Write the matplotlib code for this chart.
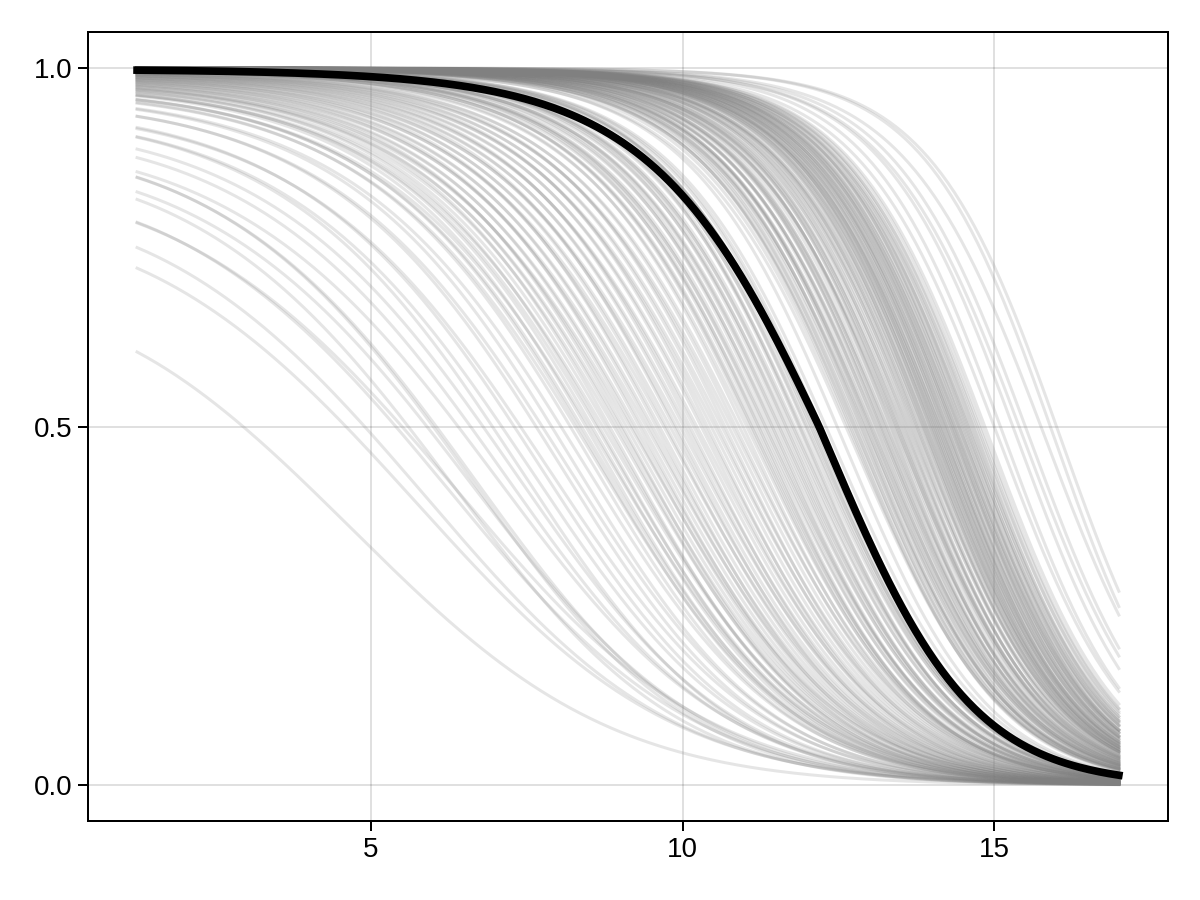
import numpy as np
import matplotlib.pyplot as plt

plt.rcParams['font.family'] = ['Liberation Sans', 'DejaVu Sans']

# x range covered by the curves
x_start, x_end = 1.25, 17.0

# posterior sample curves: x where each one crosses 0.5 and its steepness
# (curves are logistic in x**1.5, which is what the picture's shapes follow)
midpoints = [
    2.95, 4.6, 4.9, 5.4, 5.5, 5.6, 5.9, 6.0, 6.05, 6.4, 6.6, 6.8, 6.95, 7.1,
    7.3, 7.4, 7.65, 7.75, 7.9, 8.05, 8.2,
    8.28, 8.33, 8.38, 8.45, 8.5, 8.55, 8.62, 8.66, 8.72, 8.78,
    8.83, 8.9, 8.95, 9.0, 9.04, 9.1, 9.16, 9.2, 9.25, 9.31,
    9.36, 9.42, 9.47, 9.52, 9.58, 9.63, 9.7, 9.74, 9.8, 9.86,
    9.9, 9.96, 10.02, 10.07, 10.12, 10.18, 10.23, 10.3, 10.35, 10.4,
    10.46, 10.52, 10.57, 10.63, 10.68, 10.74, 10.8, 10.85, 10.91, 10.97,
    11.03, 11.08, 11.14, 11.19, 11.25, 11.3, 11.36, 11.41, 11.47, 11.52,
    11.58, 11.63, 11.69, 11.74, 11.8, 11.86, 11.91, 11.97, 12.03, 12.09,
    12.15, 12.22, 12.3, 12.48, 12.62, 12.72, 12.8, 12.86, 12.93, 12.98,
    13.04, 13.1, 13.15, 13.21, 13.26, 13.36, 13.41, 13.47, 13.52, 13.57,
    13.62, 13.67, 13.72, 13.76, 13.8,
    13.83, 13.85, 13.86, 13.88, 13.9, 13.91, 13.93, 13.95, 13.97, 13.98,
    14.0, 14.01, 14.03, 14.04, 14.06, 14.07, 14.09, 14.1, 14.12, 14.13,
    14.15, 14.16, 14.18, 14.2, 14.21, 14.23, 14.24, 14.26, 14.28, 14.3,
    14.31, 14.33, 14.34, 14.36, 14.37, 14.39, 14.41, 14.43, 14.44, 14.46,
    14.48, 14.5, 14.52, 14.54, 14.56, 14.58, 14.6, 14.62, 14.65, 14.67,
    14.7, 14.73, 14.76, 14.8,
    14.85, 15.0, 15.1, 15.3, 15.4, 15.5, 15.75, 15.9, 16.0,
    11.11, 11.22, 11.33, 11.44, 11.55, 11.66, 11.77, 11.88, 11.99, 12.06,
    12.12, 12.18,
    12.66, 12.69, 12.75, 12.77, 12.83, 12.88, 12.91, 12.95, 13.0, 13.02,
    13.07, 13.12, 13.17, 13.19, 13.24, 13.28, 13.31, 13.34, 13.39, 13.43,
    13.45, 13.49, 13.54, 13.59, 13.64, 13.69, 13.74, 13.78,
]
steepness = [
    0.115, 0.112, 0.116, 0.116, 0.112, 0.126, 0.121, 0.129, 0.127, 0.12,
    0.125, 0.126, 0.132, 0.128, 0.131, 0.127, 0.133, 0.13, 0.134, 0.131, 0.135,
    0.132, 0.136, 0.134, 0.138, 0.131, 0.137, 0.135, 0.139, 0.133, 0.136,
    0.14, 0.134, 0.138, 0.135, 0.141, 0.137, 0.133, 0.139, 0.136, 0.142,
    0.138, 0.135, 0.14, 0.137, 0.143, 0.139, 0.136, 0.141, 0.138, 0.144,
    0.14, 0.137, 0.142, 0.139, 0.145, 0.141, 0.138, 0.143, 0.14, 0.146,
    0.142, 0.139, 0.144, 0.141, 0.147, 0.143, 0.14, 0.145, 0.142, 0.148,
    0.144, 0.148, 0.146, 0.15, 0.145, 0.149, 0.147, 0.151, 0.146, 0.15,
    0.148, 0.152, 0.147, 0.151, 0.149, 0.153, 0.148, 0.152, 0.15, 0.154,
    0.149, 0.153, 0.151, 0.155, 0.15, 0.154, 0.152, 0.156, 0.151, 0.155,
    0.153, 0.157, 0.152, 0.156, 0.154, 0.158, 0.153, 0.157, 0.155, 0.159,
    0.154, 0.158, 0.156, 0.16, 0.157,
    0.158, 0.162, 0.156, 0.164, 0.16, 0.157, 0.163, 0.159, 0.165, 0.161,
    0.157, 0.163, 0.16, 0.166, 0.158, 0.162, 0.159, 0.165, 0.161, 0.156,
    0.164, 0.16, 0.167, 0.158, 0.162, 0.159, 0.165, 0.161, 0.157, 0.163,
    0.16, 0.166, 0.158, 0.162, 0.159, 0.164, 0.161, 0.157, 0.163, 0.16,
    0.166, 0.158, 0.162, 0.159, 0.165, 0.161, 0.157, 0.163, 0.16, 0.164,
    0.158, 0.162, 0.159, 0.161,
    0.16, 0.158, 0.162, 0.16, 0.157, 0.159, 0.154, 0.165, 0.163,
    0.147, 0.151, 0.146, 0.152, 0.149, 0.153, 0.148, 0.154, 0.15, 0.155,
    0.151, 0.153,
    0.153, 0.156, 0.152, 0.157, 0.155, 0.158, 0.154, 0.159, 0.156, 0.153,
    0.158, 0.155, 0.16, 0.156, 0.159, 0.154, 0.158, 0.161, 0.155, 0.159,
    0.157, 0.16, 0.156, 0.161, 0.158, 0.162, 0.157, 0.16,
]

# mean curve (thick black): 0.5 crossing, steepness left / right of it
mean_mid = 12.19
mean_steep_left = 0.14
mean_steep_right = 0.155


def curve(x, mid, steep_l, steep_r=None):
    if steep_r is None:
        steep_r = steep_l
    z = x ** 1.5 - mid ** 1.5
    c = np.where(z < 0, steep_l, steep_r)
    return 1 / (1 + np.exp(c * z))


fig, ax = plt.subplots(figsize=(12, 9), dpi=100)
fig.subplots_adjust(left=0.0733, right=0.9733, bottom=0.0878, top=0.9644)

xs = np.linspace(x_start, x_end, 300)
for m, k in zip(midpoints, steepness):
    ax.plot(xs, curve(xs, m, k), color=(0.5, 0.5, 0.5), alpha=0.2, lw=2.16)

ax.plot(xs, curve(xs, mean_mid, mean_steep_left, mean_steep_right),
        color='black', lw=5.5)

pad = 0.05 * (x_end - x_start)
ax.set_xlim(x_start - pad, x_end + pad)
ax.set_ylim(-0.05, 1.05)
ax.set_xticks([5, 10, 15])
ax.set_yticks([0.0, 0.5, 1.0])
ax.set_yticklabels(['0.0', '0.5', '1.0'])

ax.grid(True, color='black', alpha=0.12, lw=1.44)
ax.set_axisbelow(True)
for s in ax.spines.values():
    s.set_linewidth(1.44)
ax.tick_params(length=7.2, width=1.44, labelsize=20, pad=4)

fig.savefig('out.png', dpi=100)
